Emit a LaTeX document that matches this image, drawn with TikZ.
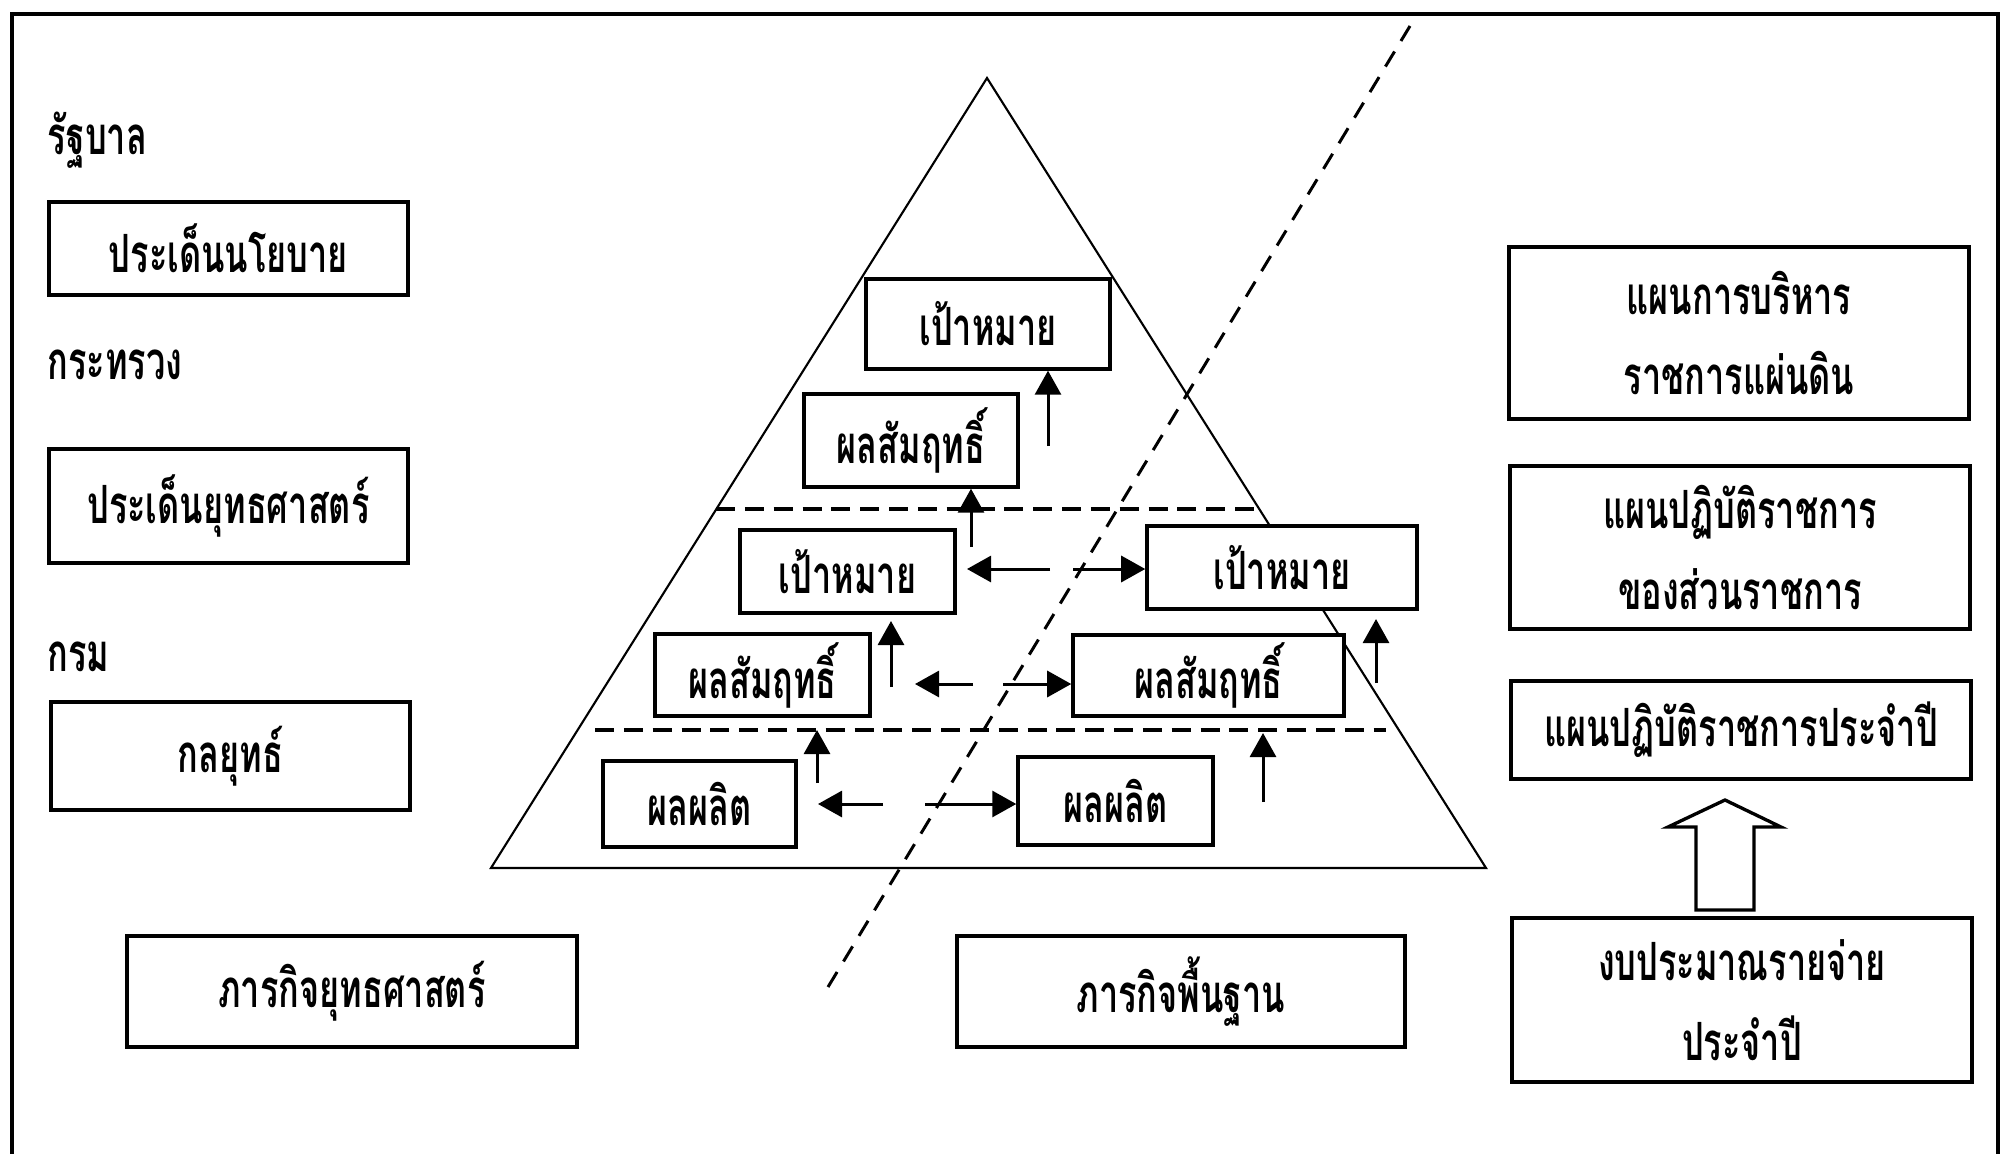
\documentclass[tikz,border=0pt]{standalone}
\usepackage{fontspec}
\newfontfamily\thaifont[Script=Thai, FakeStretch=0.65]{Loma}
\usetikzlibrary{arrows.meta}

\begin{document}
\begin{tikzpicture}[x=0.01cm, y=-0.01cm,
  box/.style={draw, line width=0.95pt, fill=white, inner sep=0pt, align=center,
    font=\thaifont\bfseries\fontsize{15}{22.8}\selectfont},
  lbl/.style={anchor=west, inner sep=0pt, font=\thaifont\bfseries\fontsize{15}{18}\selectfont},
  arr/.style={-{Triangle[length=2.4mm, width=2.6mm]}, line width=0.85pt},
  level/.style={line width=1.3pt, dash pattern=on 5.4pt off 2.8pt}]
  \useasboundingbox (0,0) rectangle (2002,1154);
  % frame, open at the bottom
  \draw[line width=1pt] (12,1154) |- (1998,14) -- (1998,1154);

  % pyramid
  \coordinate (apex) at (987,78);
  \coordinate (bl) at (491,868);
  \coordinate (br) at (1486,868);
  \draw[line width=0.6pt] (bl) -- (apex) -- (br) -- cycle;

  % left column
  \node[lbl] (gov) at (47,140) {รัฐบาล};
  \node[box, minimum width=3.59cm, minimum height=0.93cm] (pol) at (228.5,248.5) {ประเด็นนโยบาย};
  \node[lbl] (min) at (47,365) {กระทรวง};
  \node[box, minimum width=3.59cm, minimum height=1.14cm] (strat) at (228.5,506) {ประเด็นยุทธศาสตร์};
  \node[lbl] (dept) at (47,657) {กรม};
  \node[box, minimum width=3.59cm, minimum height=1.08cm] (tact) at (230.5,756) {กลยุทธ์};
  \node[box, minimum width=4.50cm, minimum height=1.11cm] (mstrat) at (352,991.5) {ภารกิจยุทธศาสตร์};
  \node[box, minimum width=4.48cm, minimum height=1.11cm] (mbase) at (1181,991.5) {ภารกิจพื้นฐาน};

  % levels inside the pyramid
  \coordinate (l1a) at (716,509);
  \coordinate (l1b) at (1255,509);
  \coordinate (l2a) at (595,730);
  \coordinate (l2b) at (1386,730);
  \draw[level] (l1a) -- (l1b);
  \draw[level] (l2a) -- (l2b);

  \node[box, minimum width=2.44cm, minimum height=0.90cm] (goal1) at (988,324) {เป้าหมาย};
  \node[box, minimum width=2.14cm, minimum height=0.93cm] (out1) at (911,440.5) {ผลสัมฤทธิ์};
  \node[box, minimum width=2.15cm, minimum height=0.83cm] (goal2) at (847.5,571.5) {เป้าหมาย};
  \node[box, minimum width=2.70cm, minimum height=0.83cm] (goal3) at (1282,567.5) {เป้าหมาย};
  \node[box, minimum width=2.15cm, minimum height=0.82cm] (out2) at (762.5,675) {ผลสัมฤทธิ์};
  \node[box, minimum width=2.71cm, minimum height=0.81cm] (out3) at (1208.5,675.5) {ผลสัมฤทธิ์};
  \node[box, minimum width=1.93cm, minimum height=0.86cm] (prod1) at (699.5,804) {ผลผลิต};
  \node[box, minimum width=1.95cm, minimum height=0.88cm] (prod2) at (1115.5,801) {ผลผลิต};

  % split line
  \coordinate (cutlo) at (828,987);
  \coordinate (cuthi) at (1410,26);
  \draw[line width=0.85pt, dash pattern=on 5pt off 3.5pt] (cutlo) -- (cuthi);

  % upward arrows
  \coordinate (u1) at (1048,446);
  \coordinate (u2) at (971,547);
  \coordinate (u3) at (891,687);
  \coordinate (u4) at (1376,683);
  \coordinate (u5) at (817,783);
  \coordinate (u6) at (1263,802);
  \draw[arr] (u1) -- (u1 |- goal1.south);
  \draw[arr] (u2) -- (u2 |- out1.south);
  \draw[arr] (u3) -- ++(0,-66);
  \draw[arr] (u4) -- ++(0,-64);
  \draw[arr] (u5) -- (u5 |- l2a);
  \draw[arr] (u6) -- ++(0,-69);

  % sideways arrows
  \coordinate (s1) at (1050,569);
  \coordinate (s2) at (973,684);
  \coordinate (s3) at (883,804);
  \draw[arr] (s1) -- ++(-83,0);
  \draw[arr] (1073,569) -- (goal3.west |- s1);
  \draw[arr] (s2) -- ++(-58,0);
  \draw[arr] (1003,684) -- (out3.west |- s2);
  \draw[arr] (s3) -- ++(-65,0);
  \draw[arr] (925,804) -- (prod2.west |- s3);

  % right column
  \node[box, minimum width=4.60cm, minimum height=1.72cm] (plan1) at (1739,333) {แผนการบริหาร\\ราชการแผ่นดิน};
  \node[box, minimum width=4.60cm, minimum height=1.63cm] (plan2) at (1740,547.5) {แผนปฏิบัติราชการ\\ของส่วนราชการ};
  \node[box, minimum width=4.60cm, minimum height=0.98cm] (plan3) at (1741,730) {แผนปฏิบัติราชการประจำปี};
  \node[box, minimum width=4.60cm, minimum height=1.64cm] (budget) at (1742,1000) {งบประมาณรายจ่าย\\ประจำปี};

  % block arrow
  \draw[line width=0.95pt] (1696,910) -- (1696,827) -- (1668,827) -- (1725,800)
    -- (1781,827) -- (1754,827) -- (1754,910) -- cycle;
\end{tikzpicture}
\end{document}
